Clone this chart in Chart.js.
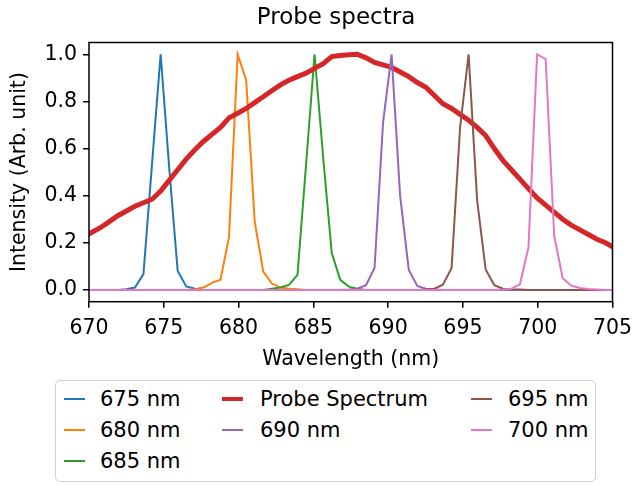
<!DOCTYPE html>
<html>
<head>
<meta charset="utf-8">
<script src="https://cdn.jsdelivr.net/npm/chart.js@4"></script>
<style>
  body { margin: 0; background: #fff; font-family: "DejaVu Sans", sans-serif; }
  #wrap { position: relative; width: 633px; height: 486px; }
  #legend {
    position: absolute; left: 55px; top: 380px; width: 539px; height: 100px;
    border: 1.5px solid #d0d0d0; border-radius: 5px; background: #fff;
  }
  .item { position: absolute; font-size: 21px; color: #000; white-space: nowrap; line-height: 24px; }
  .swatch { position: absolute; height: 2px; }
</style>
</head>
<body>
<div id="wrap">
  <canvas id="chart" width="633" height="486"></canvas>
  <div id="legend"></div>
</div>
<script>
// wavelength grid (nm)
const wavelengths = [
  669.64, 670.21, 670.78, 671.36, 671.93, 672.50, 673.07, 673.64, 674.22, 674.79,
  675.36, 675.93, 676.50, 677.08, 677.65, 678.22, 678.79, 679.36, 679.94, 680.51,
  681.08, 681.65, 682.22, 682.80, 683.37, 683.94, 684.51, 685.08, 685.66, 686.23,
  686.80, 687.37, 687.94, 688.52, 689.09, 689.66, 690.23, 690.80, 691.38, 691.95,
  692.52, 693.09, 693.66, 694.24, 694.81, 695.38, 695.95, 696.52, 697.10, 697.67,
  698.24, 698.81, 699.38, 699.96, 700.53, 701.10, 701.67, 702.24, 702.82, 703.39,
  703.96, 704.53, 705.10
];

const line675 = [
  0, 0, 0, 0, 0, 0.003, 0.01, 0.067, 0.54, 1.0,
  0.52, 0.08, 0.015, 0.005, 0, 0, 0, 0, 0, 0,
  0, 0, 0, 0, 0, 0, 0, 0, 0, 0,
  0, 0, 0, 0, 0, 0, 0, 0, 0, 0,
  0, 0, 0, 0, 0, 0, 0, 0, 0, 0,
  0, 0, 0, 0, 0, 0, 0, 0, 0, 0,
  0, 0, 0
];
const line680 = [
  0, 0, 0, 0, 0, 0, 0, 0, 0, 0,
  0, 0, 0, 0.003, 0.01, 0.03, 0.043, 0.224, 1.0, 0.89,
  0.29, 0.078, 0.028, 0.01, 0.005, 0.003, 0, 0, 0, 0,
  0, 0, 0, 0, 0, 0, 0, 0, 0, 0,
  0, 0, 0, 0, 0, 0, 0, 0, 0, 0,
  0, 0, 0, 0, 0, 0, 0, 0, 0, 0,
  0, 0, 0
];
const line685 = [
  0, 0, 0, 0, 0, 0, 0, 0, 0, 0,
  0, 0, 0, 0, 0, 0, 0, 0, 0, 0,
  0, 0, 0.005, 0.01, 0.021, 0.064, 0.53, 1.0, 0.56, 0.156,
  0.043, 0.014, 0.005, 0, 0, 0, 0, 0, 0, 0,
  0, 0, 0, 0, 0, 0, 0, 0, 0, 0,
  0, 0, 0, 0, 0, 0, 0, 0, 0, 0,
  0, 0, 0
];
const probe = [
  0.225, 0.245, 0.265, 0.29, 0.315, 0.335, 0.355, 0.37, 0.385, 0.42,
  0.465, 0.51, 0.555, 0.595, 0.63, 0.66, 0.69, 0.73, 0.75, 0.77,
  0.795, 0.82, 0.845, 0.87, 0.89, 0.905, 0.92, 0.94, 0.96, 0.99,
  0.995, 0.998, 1.0, 0.985, 0.965, 0.955, 0.945, 0.925, 0.905, 0.88,
  0.86, 0.825, 0.79, 0.77, 0.745, 0.72, 0.69, 0.655, 0.60, 0.55,
  0.51, 0.47, 0.43, 0.39, 0.36, 0.33, 0.30, 0.275, 0.255, 0.235,
  0.215, 0.20, 0.18
];
const line690 = [
  0, 0, 0, 0, 0, 0, 0, 0, 0, 0,
  0, 0, 0, 0, 0, 0, 0, 0, 0, 0,
  0, 0, 0, 0, 0, 0, 0, 0, 0, 0,
  0, 0.002, 0.005, 0.02, 0.093, 0.71, 1.0, 0.40, 0.085, 0.017,
  0.005, 0.002, 0, 0, 0, 0, 0, 0, 0, 0,
  0, 0, 0, 0, 0, 0, 0, 0, 0, 0,
  0, 0, 0
];
const line695 = [
  0, 0, 0, 0, 0, 0, 0, 0, 0, 0,
  0, 0, 0, 0, 0, 0, 0, 0, 0, 0,
  0, 0, 0, 0, 0, 0, 0, 0, 0, 0,
  0, 0, 0, 0, 0, 0, 0, 0, 0, 0,
  0.002, 0.005, 0.022, 0.092, 0.69, 1.0, 0.38, 0.087, 0.02, 0.005,
  0.003, 0.002, 0, 0, 0, 0, 0, 0, 0, 0,
  0, 0, 0
];
const line700 = [
  0, 0, 0, 0, 0, 0, 0, 0, 0, 0,
  0, 0, 0, 0, 0, 0, 0, 0, 0, 0,
  0, 0, 0, 0, 0, 0, 0, 0, 0, 0,
  0, 0, 0, 0, 0, 0, 0, 0, 0, 0,
  0, 0, 0, 0, 0, 0, 0, 0, 0, 0.002,
  0.005, 0.024, 0.18, 1.0, 0.98, 0.23, 0.05, 0.018, 0.008, 0.004,
  0.002, 0, 0
];

const seriesLabels = ['675 nm', '680 nm', '685 nm', 'Probe Spectrum', '690 nm', '695 nm', '700 nm'];
const seriesValues = [line675, line680, line685, probe, line690, line695, line700];
const seriesColors = ['#1f77b4', '#ff7f0e', '#2ca02c', '#d62728', '#9467bd', '#8c564b', '#e377c2'];
// legend column for each series (matplotlib fills 3 / 2 / 2)
const legendCols = [0, 0, 0, 1, 1, 2, 2];
const legendRows = [0, 1, 2, 0, 1, 0, 1];

const xTicks = [670, 675, 680, 685, 690, 695, 700, 705];
const yTicks = [0.0, 0.2, 0.4, 0.6, 0.8, 1.0];

const FONT = '"DejaVu Sans", sans-serif';

const datasets = seriesLabels.map((label, i) => ({
    label: label,
    data: wavelengths.map((x, j) => ({ x: x, y: seriesValues[i][j] })),
    borderColor: seriesColors[i],
    backgroundColor: seriesColors[i],
    borderWidth: label === 'Probe Spectrum' ? 5 : 2,
    pointRadius: 0,
    tension: 0,
    order: seriesLabels.length - i
}));

// box around the plot area (matplotlib spines) and the figure title
const frame = {
    id: 'frame',
    afterDatasetsDraw(chart) {
        const { ctx, chartArea: a } = chart;
        ctx.save();
        ctx.strokeStyle = '#000';
        ctx.lineWidth = 1.5;
        ctx.strokeRect(a.left, a.top, a.right - a.left, a.bottom - a.top);
        ctx.restore();
    },
    afterDraw(chart) {
        const ctx = chart.ctx;
        ctx.save();
        ctx.fillStyle = '#000';
        ctx.font = '23px ' + FONT;
        ctx.textAlign = 'center';
        ctx.textBaseline = 'middle';
        ctx.fillText('Probe spectra', 336, 18);
        ctx.restore();
    }
};

const chart = new Chart(document.getElementById('chart'), {
    type: 'line',
    data: { datasets },
    plugins: [frame],
    options: {
        responsive: false,
        animation: false,
        layout: { padding: { left: 0, right: 20.5, top: 42.5, bottom: 104.3 } },
        plugins: {
            legend: { display: false },
            tooltip: { enabled: false },
            title: { display: false }
        },
        scales: {
            x: {
                type: 'linear',
                min: 670,
                max: 705,
                afterBuildTicks: s => { s.ticks = xTicks.map(v => ({ value: v })); },
                afterFit: s => { s.height = 80; s.paddingLeft = 0; s.paddingRight = 0; },
                grid: { drawOnChartArea: false, drawTicks: true, tickLength: 6, color: '#000', lineWidth: 1.5 },
                border: { display: false },
                ticks: { color: '#000', padding: 9, maxRotation: 0, font: { family: FONT, size: 20.5 } },
                title: {
                    display: true,
                    text: 'Wavelength (nm)',
                    color: '#000',
                    font: { family: FONT, size: 20.5 },
                    padding: { top: 0, bottom: 9.7 }
                }
            },
            y: {
                type: 'linear',
                min: -0.05,
                max: 1.05,
                afterBuildTicks: s => { s.ticks = yTicks.map(v => ({ value: v })); },
                afterFit: s => { s.width = 89; s.paddingTop = 0; s.paddingBottom = 0; },
                grid: { drawOnChartArea: false, drawTicks: true, tickLength: 6, color: '#000', lineWidth: 1.5 },
                border: { display: false },
                ticks: {
                    color: '#000',
                    padding: 6,
                    font: { family: FONT, size: 20.5 },
                    callback: v => v.toFixed(1)
                },
                title: {
                    display: true,
                    text: 'Intensity (Arb. unit)',
                    color: '#000',
                    font: { family: FONT, size: 20.5 },
                    padding: { top: 7, bottom: 0 }
                }
            }
        }
    }
});

// legend, filled column by column
const legendEl = document.getElementById('legend');
const boxLeft = 55, boxTop = 380;
const colLine = [63, 221, 470];
const colText = [99, 259, 507];
const rowMid = [398, 429, 460];
chart.data.datasets.forEach((ds, i) => {
    const col = legendCols[i], row = legendRows[i];
    const thick = ds.borderWidth === 5;
    const sw = document.createElement('div');
    sw.className = 'swatch';
    sw.style.left = (colLine[col] - boxLeft) + 'px';
    sw.style.width = '21px';
    sw.style.height = (thick ? 4 : 2) + 'px';
    sw.style.top = (rowMid[row] - boxTop - (thick ? 2 : 1)) + 'px';
    sw.style.background = ds.borderColor;
    legendEl.appendChild(sw);
    const t = document.createElement('div');
    t.className = 'item';
    t.textContent = ds.label;
    t.style.left = (colText[col] - boxLeft) + 'px';
    t.style.top = (rowMid[row] - boxTop - 12) + 'px';
    legendEl.appendChild(t);
});
</script>
</body>
</html>
